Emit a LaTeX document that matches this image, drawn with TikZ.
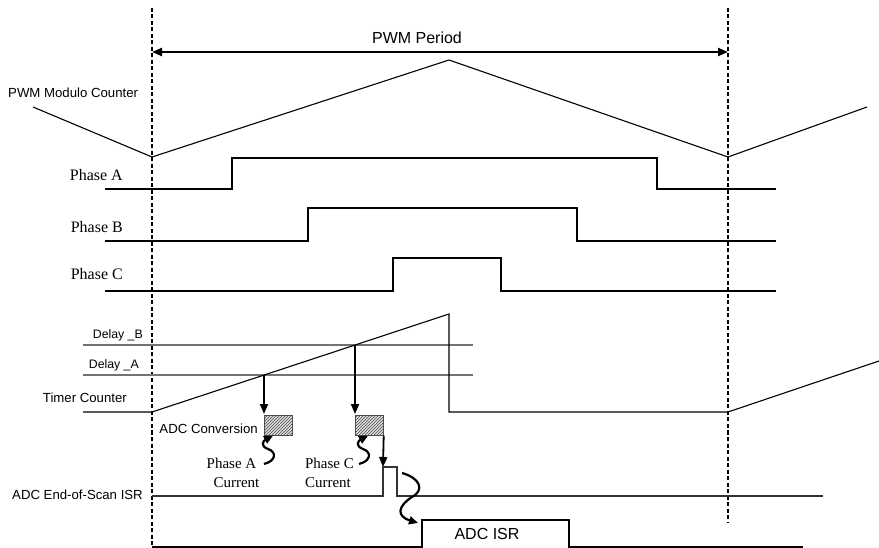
\documentclass[tikz,border=0pt]{standalone}
\usepackage{fontspec}
\setmainfont{Liberation Serif}
\newfontfamily\arialf{Liberation Sans}
\usetikzlibrary{arrows.meta,patterns}
\begin{document}
\begin{tikzpicture}[x=1pt,y=-1pt,
  sig/.style={line width=1.1pt},
  vdash/.style={line width=2.2pt, dash pattern=on 4pt off 2.5pt},
  dly/.style={line width=2.8pt, draw=black!55},
  sans/.style={font=\arialf\fontsize{13.2}{15}\selectfont, inner sep=0pt},
  dsans/.style={font=\arialf\fontsize{12.3}{14}\selectfont, inner sep=0pt},
  bigsans/.style={font=\arialf\fontsize{16}{18}\selectfont, inner sep=0pt},
  serl/.style={font=\fontsize{16}{18}\selectfont, inner sep=0pt},
  sers/.style={font=\fontsize{15}{17}\selectfont, inner sep=0pt},
  darr/.style={line width=1.8pt, -{Triangle[length=10pt,width=8pt]}},
  wavy/.style={line width=2.2pt, -{Triangle[length=9pt,width=8pt]}},
  hbox/.style={draw=black!70, line width=0.7pt, fill=gray!25, inner sep=0pt,
    minimum width=28pt, minimum height=20pt, anchor=north west,
    postaction={pattern=north east lines, pattern color=black!70}},
]
\useasboundingbox (0,0) rectangle (879,548);
% period markers
\coordinate (t0top) at (152,8);
\coordinate (t0bot) at (152,548);
\coordinate (t1top) at (728,8);
\coordinate (t1bot) at (728,523);
\draw[vdash] (t0top) -- (t0bot);
\draw[vdash] (t1top) -- (t1bot);
\coordinate (pl) at (152,52);
\coordinate (pr) at (728,52);
\draw[line width=2.2pt, {Triangle[length=10pt,width=8pt]}-{Triangle[length=10pt,width=8pt]}] (pl) -- (pr);
\node[bigsans, anchor=base] (pp) at (417,44) {PWM Period};
% PWM modulo counter
\node[sans, anchor=base west] (pmc) at (8,98) {PWM Modulo Counter};
\draw[sig] (33,107) -- (152,157) -- (449,60) -- (728,157) -- (867,107);
% phases
\node[serl, anchor=base east] (pa) at (123,181) {Phase A};
\draw[sig] (105,189) -- (232,189) -- (232,158) -- (657,158) -- (657,189) -- (776,189);
\node[serl, anchor=base east] (pb) at (123,233) {Phase B};
\draw[sig] (105,241) -- (308,241) -- (308,208) -- (577,208) -- (577,241) -- (776,241);
\node[serl, anchor=base east] (pc) at (123,280) {Phase C};
\draw[sig] (105,291) -- (393,291) -- (393,258) -- (501,258) -- (501,291) -- (776,291);
% delays and timer
\node[dsans, anchor=base east] (db) at (143,338) {Delay \_B};
\node[dsans, anchor=base east] (da) at (139,368) {Delay \_A};
\draw[dly] (83,345) -- (473,345);
\draw[dly] (83,375) -- (473,375);
\node[sans, anchor=base east] (tc) at (127,402) {Timer Counter};
\draw[sig] (83,412) -- (152,412) -- (449,314) -- (449,412) -- (728,412) -- (879,361);
% ADC conversions
\coordinate (xa) at (264,375);
\coordinate (xb) at (355,345);
\node[hbox] (cA) at (264,415) {};
\node[hbox] (cC) at (355,415) {};
\draw[darr, shorten >=1pt] (xa) -- (cA.north west);
\draw[darr, shorten >=1pt] (xb) -- (cC.north west);
\node[sans, anchor=base east] (adcc) at (258,433) {ADC Conversion};
% phase currents
\node[sers, anchor=base] (paL1) at (231.5,468) {Phase A};
\node[sers, anchor=base] (paL2) at (236.5,487) {Current};
\node[sers, anchor=base] (pcL1) at (329.5,468) {Phase C};
\node[sers, anchor=base] (pcL2) at (328,487) {Current};
\coordinate (wa) at (264,464);
\coordinate (wc) at (359,464);
\draw[wavy] (wa) .. controls (276,461) and (277,452) .. (268,449) .. controls (260,446) and (263,441) .. (cA.south -| 273,0);
\draw[wavy] (wc) .. controls (371,461) and (372,452) .. (363,449) .. controls (355,446) and (358,441) .. (cC.south -| 368,0);
% end of scan ISR
\node[sans, anchor=base west] (eos) at (12,499) {ADC End-of-Scan ISR};
\coordinate (eosup) at (383,467);
\draw[darr] (cC.south east) -- (eosup);
\draw[line width=1.5pt, draw=black!80] (152,496) -- (383,496) -- (eosup) -- (397,467) -- (397,496) -- (823,496);
% ADC ISR
\coordinate (wisr) at (402,473);
\coordinate (isrtip) at (418,523);
\draw[wavy] (wisr) .. controls (420,478) and (425,490) .. (412,497) .. controls (398,506) and (396,516) .. (isrtip);
\draw[line width=1.2pt] (152,547) -- (422,547) -- (422,520) -- (569,520) -- (569,547) -- (803,547);
\node[bigsans, anchor=base] (isr) at (487,539) {ADC ISR};
\end{tikzpicture}
\end{document}
